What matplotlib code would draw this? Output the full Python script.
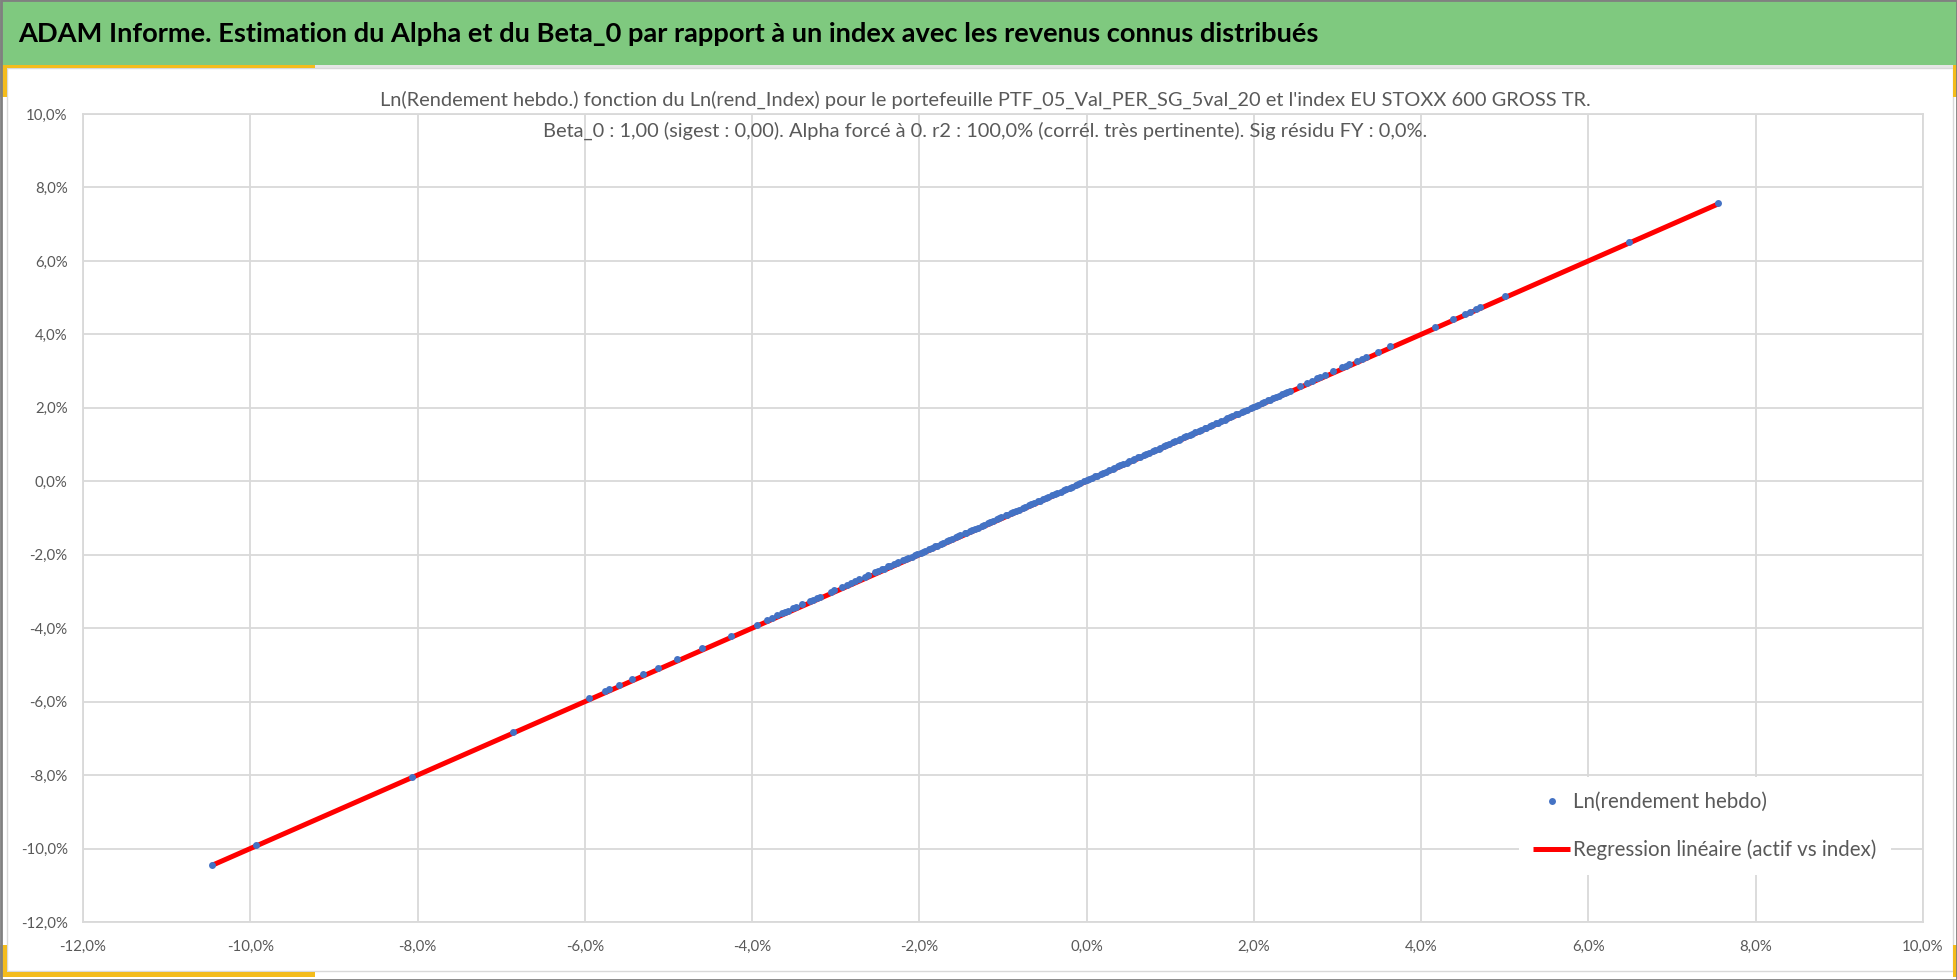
import matplotlib
matplotlib.use("Agg")
import matplotlib.pyplot as plt
from matplotlib.patches import Rectangle
from matplotlib.ticker import FuncFormatter

plt.rcParams['font.family'] = ['Lato', 'DejaVu Sans']

# weekly log returns (%)
idx_ret = [-10.46, -9.93, -8.07, -6.86, -5.95, -5.76, -5.71, -5.59, -5.44, -5.30,
           -5.13, -4.90, -4.60, -4.25, -3.94, -3.82, -3.76, -3.70, -3.64, -3.61,
           -3.57, -3.51, -3.48, -3.40, -3.31, -3.27, -3.22, -3.19, -3.06, -3.02,
           -2.93, -2.87, -2.82, -2.77, -2.72, -2.65, -2.61, -2.53, -2.49,
           -2.45, -2.42, -2.37, -2.35, -2.30, -2.27, -2.25, -2.19, -2.16, -2.14,
           -2.09, -2.05, -2.03, -1.98, -1.96, -1.93, -1.88, -1.85, -1.81, -1.79,
           -1.74, -1.72, -1.67, -1.65, -1.61, -1.56, -1.54, -1.51, -1.46, -1.44,
           -1.39, -1.37, -1.33, -1.30, -1.25, -1.23, -1.18, -1.16, -1.12, -1.07,
           -1.05, -1.02, -0.97, -0.95, -0.90, -0.88, -0.84, -0.81, -0.76, -0.74,
           -0.69, -0.67, -0.63, -0.58, -0.56, -0.52, -0.48, -0.46, -0.41, -0.38,
           -0.35, -0.31, -0.27, -0.25, -0.20, -0.18, -0.13, -0.10, -0.08, -0.03,
           0.00, 0.03, 0.07, 0.10, 0.12, 0.17, 0.20, 0.23, 0.27, 0.31,
           0.33, 0.38, 0.40, 0.44, 0.48, 0.51, 0.55, 0.57, 0.62, 0.64,
           0.69, 0.71, 0.75, 0.79, 0.82, 0.86, 0.88, 0.93, 0.95, 0.99,
           1.03, 1.06, 1.10, 1.12, 1.17, 1.19, 1.24, 1.26, 1.30, 1.34,
           1.37, 1.41, 1.43, 1.48, 1.50, 1.55, 1.57, 1.61, 1.65, 1.68,
           1.72, 1.74, 1.79, 1.81, 1.86, 1.88, 1.92, 1.96, 1.99, 2.03,
           2.05, 2.10, 2.12, 2.17, 2.19, 2.23, 2.27, 2.30, 2.34, 2.37,
           2.40, 2.43,
           2.55, 2.63, 2.69, 2.75, 2.79, 2.85, 2.94, 3.05, 3.10, 3.14,
           3.23, 3.29, 3.34, 3.48, 3.63, 4.16, 4.38, 4.52, 4.58, 4.66,
           4.70, 5.00, 6.48, 7.55]

ptf_ret = [-10.44, -9.90, -8.04, -6.82, -5.91, -5.72, -5.66, -5.55, -5.39, -5.25,
           -5.08, -4.85, -4.55, -4.20, -3.90, -3.77, -3.71, -3.65, -3.59, -3.56,
           -3.52, -3.46, -3.43, -3.35, -3.26, -3.22, -3.17, -3.14, -3.01, -2.97,
           -2.88, -2.82, -2.77, -2.72, -2.67, -2.60, -2.56, -2.48, -2.44,
           -2.40, -2.38, -2.32, -2.31, -2.25, -2.23, -2.21, -2.14, -2.12, -2.10,
           -2.05, -2.00, -1.99, -1.94, -1.92, -1.89, -1.84, -1.81, -1.77, -1.75,
           -1.70, -1.68, -1.63, -1.61, -1.57, -1.52, -1.50, -1.47, -1.42, -1.40,
           -1.35, -1.33, -1.29, -1.26, -1.21, -1.19, -1.14, -1.12, -1.08, -1.03,
           -1.01, -0.98, -0.93, -0.91, -0.86, -0.84, -0.80, -0.77, -0.72, -0.70,
           -0.65, -0.63, -0.59, -0.55, -0.53, -0.49, -0.45, -0.43, -0.38, -0.35,
           -0.32, -0.28, -0.24, -0.22, -0.17, -0.15, -0.10, -0.07, -0.05, 0.00,
           0.03, 0.06, 0.10, 0.13, 0.15, 0.20, 0.23, 0.26, 0.30, 0.34,
           0.36, 0.41, 0.43, 0.47, 0.51, 0.54, 0.58, 0.60, 0.65, 0.67,
           0.72, 0.74, 0.78, 0.82, 0.85, 0.89, 0.91, 0.96, 0.98, 1.02,
           1.06, 1.09, 1.13, 1.15, 1.20, 1.22, 1.27, 1.29, 1.33, 1.37,
           1.40, 1.44, 1.46, 1.51, 1.53, 1.58, 1.60, 1.64, 1.68, 1.71,
           1.75, 1.77, 1.82, 1.84, 1.89, 1.91, 1.95, 1.99, 2.02, 2.06,
           2.08, 2.13, 2.15, 2.20, 2.22, 2.26, 2.30, 2.33, 2.37, 2.40,
           2.44, 2.47,
           2.60, 2.68, 2.74, 2.80, 2.84, 2.90, 2.99, 3.10, 3.15, 3.19,
           3.28, 3.34, 3.39, 3.52, 3.67, 4.20, 4.42, 4.56, 4.62, 4.70,
           4.74, 5.04, 6.51, 7.58]

beta_0 = 1.00
x_ticks = [-12, -10, -8, -6, -4, -2, 0, 2, 4, 6, 8, 10]
y_ticks = [-12, -10, -8, -6, -4, -2, 0, 2, 4, 6, 8, 10]

header = "ADAM Informe. Estimation du Alpha et du Beta_0 par rapport à un index avec les revenus connus distribués"
title_1 = "Ln(Rendement hebdo.) fonction du Ln(rend_Index) pour le portefeuille PTF_05_Val_PER_SG_5val_20 et l'index EU STOXX 600 GROSS TR."
title_2 = "Beta_0 : 1,00 (sigest : 0,00). Alpha forcé à 0. r2 : 100,0% (corrél. très pertinente). Sig résidu FY : 0,0%."

W, H = 1958, 980
GRAY_TXT = '#595959'
GRID = '#d9d9d9'
GOLD = '#F4BC1C'

fig = plt.figure(figsize=(W / 100, H / 100), dpi=100)


def px_rect(x0, y0, x1, y1, z=-2, **kw):
    # rectangle given in pixel coords, origin top-left
    r = Rectangle((x0 / W, 1 - y1 / H), (x1 - x0) / W, (y1 - y0) / H,
                  transform=fig.transFigure, figure=fig, zorder=z, **kw)
    fig.patches.append(r)


# header band and frame decorations
px_rect(0, 0, W, 65, facecolor='#7FC97F', edgecolor='none')
px_rect(0, 65, W, 68, facecolor='#e6e6e6', edgecolor='none')
px_rect(7, 68, W - 5, 971, facecolor='white', edgecolor=GRID, lw=1)
px_rect(0, 65, 315, 68, z=-1, facecolor=GOLD, edgecolor='none')
px_rect(0, 65, 7, 97, z=-1, facecolor=GOLD, edgecolor='none')
px_rect(0, 945, 7, 977, z=-1, facecolor=GOLD, edgecolor='none')
px_rect(0, 972, 315, 977, z=-1, facecolor=GOLD, edgecolor='none')
px_rect(W - 5, 65, W - 1, 97, z=-1, facecolor=GOLD, edgecolor='none')
px_rect(W - 5, 945, W - 1, 977, z=-1, facecolor=GOLD, edgecolor='none')
px_rect(0.5, 0.5, W - 0.5, H - 0.5, z=10, facecolor='none', edgecolor='#808080', lw=2)

fig.text(18 / W, 1 - 34 / H, header, fontsize=19.6, fontweight='bold', color='black',
         ha='left', va='center')
fig.text(985 / W, 1 - 100 / H, title_1, fontsize=14.4, color=GRAY_TXT, ha='center',
         va='center', zorder=8)
fig.text(985 / W, 1 - 131 / H, title_2, fontsize=14.4, color=GRAY_TXT, ha='center',
         va='center', zorder=8)

ax = fig.add_axes([83 / W, 1 - 922 / H, 1840 / W, 808 / H])
ax.set_zorder(5)
ax.set_facecolor('none')

x_line = [min(idx_ret), max(idx_ret)]
y_line = [beta_0 * v for v in x_line]
ax.plot(x_line, y_line, color='#FF0000', lw=3.6, solid_capstyle='butt', zorder=2,
        label='Regression linéaire (actif vs index)')
ax.plot(idx_ret, ptf_ret, ls='none', marker='o', ms=5, color='#4472C4',
        markeredgewidth=0, zorder=3, label='Ln(rendement hebdo)')

ax.set_xlim(-12, 10)
ax.set_ylim(-12, 10)
ax.set_xticks(x_ticks)
ax.set_yticks(y_ticks)
fmt = FuncFormatter(lambda v, p: f"{v:.1f}%".replace('.', ','))
ax.xaxis.set_major_formatter(fmt)
ax.yaxis.set_major_formatter(fmt)
ax.grid(True, color=GRID, lw=1.3, zorder=0)
ax.set_axisbelow(True)
for sp in ax.spines.values():
    sp.set_color(GRID)
    sp.set_linewidth(1.3)
ax.tick_params(length=0, labelsize=10.8, labelcolor=GRAY_TXT)
ax.tick_params(axis='y', pad=11)
ax.tick_params(axis='x', pad=13)

handles, labels = ax.get_legend_handles_labels()
leg = ax.legend(handles[::-1], labels[::-1], loc='center', bbox_to_anchor=(1705 / W, 1 - 826 / H),
                bbox_transform=fig.transFigure, frameon=True, fancybox=False, edgecolor='none',
                facecolor='white', framealpha=1, fontsize=14.8, labelspacing=1.35,
                handlelength=1.8, handletextpad=0.15, markerscale=1.0, borderpad=0.7)
for t in leg.get_texts():
    t.set_color(GRAY_TXT)

fig.savefig('out.png', dpi=100)
